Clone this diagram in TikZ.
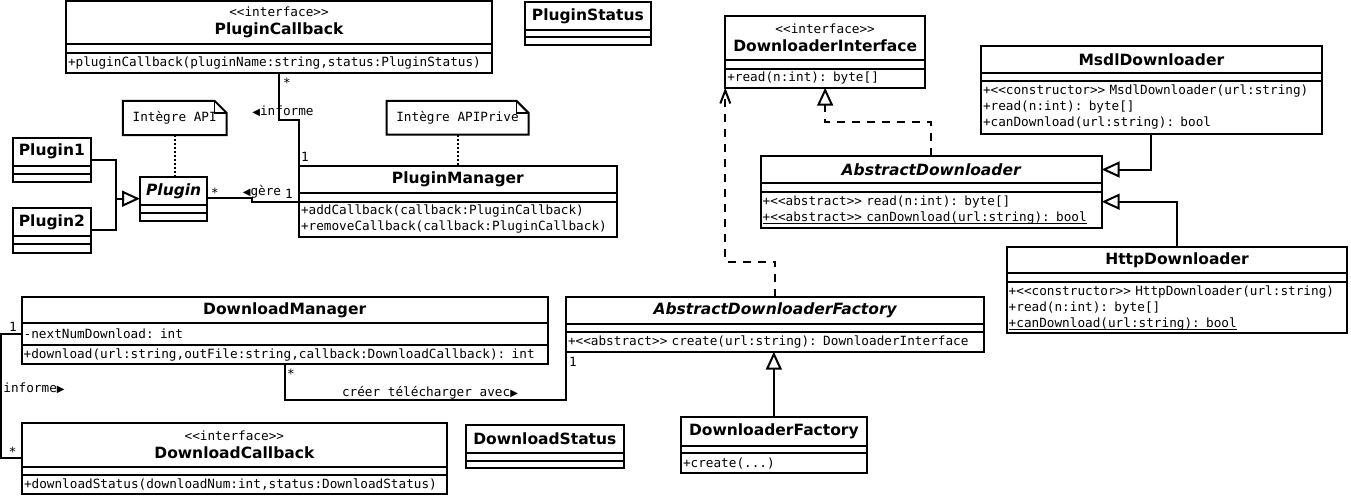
\documentclass[tikz,border=0pt]{standalone}
\usepackage{fontspec}
\setmainfont{DejaVu Sans}
\setmonofont{DejaVu Sans Mono}
\newfontfamily\tipfont{DejaVu Sans}
\usetikzlibrary{positioning,arrows.meta,calc}

\newcommand{\namefont}{\fontsize{15.5}{18.5}\selectfont\bfseries}
\newcommand{\memberfont}{\fontsize{12.7}{16}\selectfont\ttfamily}
\newcommand{\stereo}[1]{{\fontsize{12.7}{15}\selectfont\mdseries\ttfamily #1}}
\newcommand{\dirl}{{\tipfont\fontsize{10}{10}\selectfont ◀}}
\newcommand{\dirr}{{\tipfont\fontsize{10}{10}\selectfont ▶}}
\newcommand{\undl}[1]{\leavevmode\setbox0\hbox{#1}\rlap{\rule[-2.5pt]{\wd0}{1pt}}\box0}

\begin{document}
\begin{tikzpicture}[x=1pt,y=-1pt,
  head/.style={draw,line width=2pt,outer sep=0pt,inner xsep=2pt,inner ysep=0pt,
               anchor=north west,align=center,font=\namefont},
  part/.style={draw,line width=2pt,outer sep=0pt,inner xsep=2pt,inner ysep=0pt,
               align=left,font=\memberfont},
  notebox/.style={inner sep=0pt,font=\memberfont},
  mult/.style={inner sep=0pt,font=\memberfont},
  assoc/.style={line width=2pt},
  gen/.style={line width=2pt,-{Triangle[open,length=18pt,width=16pt]}},
  real/.style={gen,dash pattern=on 8pt off 7pt},
  dep/.style={line width=2pt,dash pattern=on 8pt off 7pt,
              -{Straight Barb[length=13pt,width=10pt]}},
  link/.style={line width=2pt,dotted},
]
\useasboundingbox (0,0) rectangle (1351,498);

% Plugin side
\node[head,text width=422pt,minimum height=43pt] (pcb-head) at (66,1)
  {\stereo{<<interface>>}\\PluginCallback};
\node[part,text width=422pt,minimum height=8.7pt,below=0pt of pcb-head] (pcb-attr) {};
\node[part,text width=422pt,minimum height=20pt,below=0pt of pcb-attr] (pcb-ops)
  {+pluginCallback(pluginName:string,status:PluginStatus)};

\node[head,text width=121.7pt,minimum height=28.3pt] (ps-head) at (525,1.7) {PluginStatus};
\node[part,text width=121.7pt,minimum height=7pt,below=0pt of ps-head] (ps-attr) {};
\node[part,text width=121.7pt,minimum height=8.3pt,below=0pt of ps-attr] (ps-ops) {};

\node[head,text width=73.7pt,minimum height=28pt] (p1-head) at (13,137.7) {Plugin1};
\node[part,text width=73.7pt,minimum height=8.3pt,below=0pt of p1-head] (p1-attr) {};
\node[part,text width=73.7pt,minimum height=8.3pt,below=0pt of p1-attr] (p1-ops) {};

\node[head,text width=73.7pt,minimum height=28pt] (p2-head) at (13,208) {Plugin2};
\node[part,text width=73.7pt,minimum height=8.3pt,below=0pt of p2-head] (p2-attr) {};
\node[part,text width=73.7pt,minimum height=8.3pt,below=0pt of p2-attr] (p2-ops) {};

\node[head,text width=63.3pt,minimum height=28.3pt] (plugin-head) at (140,176.7)
  {\itshape Plugin};
\node[part,text width=63.3pt,minimum height=7.7pt,below=0pt of plugin-head] (plugin-attr) {};
\node[part,text width=63.3pt,minimum height=8pt,below=0pt of plugin-attr] (plugin-ops) {};

\node[head,text width=313.7pt,minimum height=27.3pt] (pm-head) at (299,166) {PluginManager};
\node[part,text width=313.7pt,minimum height=8.4pt,below=0pt of pm-head] (pm-attr) {};
\node[part,text width=313.7pt,minimum height=35pt,below=0pt of pm-attr] (pm-ops)
  {+addCallback(callback:PluginCallback)\\+removeCallback(callback:PluginCallback)};

% Notes
\node[notebox,minimum width=103.3pt,minimum height=34pt] (napi) at (174.7,118) {Intègre API};
\draw[line width=2pt] (napi.south west) -- (napi.north west) -- ([xshift=-12pt]napi.north east)
  -- ([yshift=-12pt]napi.north east) -- (napi.south east) -- cycle;
\draw[line width=1.5pt] ([xshift=-12pt]napi.north east) |- ([yshift=-12pt]napi.north east);

\node[notebox,minimum width=141.6pt,minimum height=33.3pt] (napriv) at (457.5,117.7) {Intègre APIPrive};
\draw[line width=2pt] (napriv.south west) -- (napriv.north west) -- ([xshift=-12pt]napriv.north east)
  -- ([yshift=-12pt]napriv.north east) -- (napriv.south east) -- cycle;
\draw[line width=1.5pt] ([xshift=-12pt]napriv.north east) |- ([yshift=-12pt]napriv.north east);

% Downloader side
\node[head,text width=195.7pt,minimum height=44pt] (di-head) at (725.3,16)
  {\stereo{<<interface>>}\\DownloaderInterface};
\node[part,text width=195.7pt,minimum height=8.7pt,below=0pt of di-head] (di-attr) {};
\node[part,text width=195.7pt,minimum height=19pt,below=0pt of di-attr] (di-ops)
  {+read(n:int): byte[]};

\node[head,text width=336.7pt,minimum height=27pt] (msdl-head) at (981,46.3) {MsdlDownloader};
\node[part,text width=336.7pt,minimum height=8pt,below=0pt of msdl-head] (msdl-attr) {};
\node[part,text width=336.7pt,minimum height=52.4pt,below=0pt of msdl-attr] (msdl-ops)
  {+<<constructor>> MsdlDownloader(url:string)\\+read(n:int): byte[]\\+canDownload(url:string): bool};

\node[head,text width=337pt,minimum height=27.6pt] (ad-head) at (760.7,155.7)
  {\itshape AbstractDownloader};
\node[part,text width=337pt,minimum height=8.4pt,below=0pt of ad-head] (ad-attr) {};
\node[part,text width=337pt,minimum height=36pt,below=0pt of ad-attr] (ad-ops)
  {+<<abstract>> read(n:int): byte[]\\\undl{+<<abstract>> canDownload(url:string): bool}};

\node[head,text width=336.6pt,minimum height=26.8pt] (http-head) at (1006.7,246.5) {HttpDownloader};
\node[part,text width=336.6pt,minimum height=8.7pt,below=0pt of http-head] (http-attr) {};
\node[part,text width=336.6pt,minimum height=51.3pt,below=0pt of http-attr] (http-ops)
  {+<<constructor>> HttpDownloader(url:string)\\+read(n:int): byte[]\\\undl{+canDownload(url:string): bool}};

% Download side
\node[head,text width=522pt,minimum height=26pt] (dm-head) at (21.7,297.3) {DownloadManager};
\node[part,text width=522pt,minimum height=21.7pt,below=0pt of dm-head] (dm-attr)
  {-nextNumDownload: int};
\node[part,text width=522pt,minimum height=19pt,below=0pt of dm-attr] (dm-ops)
  {+download(url:string,outFile:string,callback:DownloadCallback): int};

\node[head,text width=414.3pt,minimum height=26.7pt] (adf-head) at (566,297.3)
  {\itshape AbstractDownloaderFactory};
\node[part,text width=414.3pt,minimum height=7.7pt,below=0pt of adf-head] (adf-attr) {};
\node[part,text width=414.3pt,minimum height=20pt,below=0pt of adf-attr] (adf-ops)
  {+<<abstract>> create(url:string): DownloaderInterface};

\node[head,text width=420.7pt,minimum height=43.4pt] (dc-head) at (22,423.3)
  {\stereo{<<interface>>}\\DownloadCallback};
\node[part,text width=420.7pt,minimum height=8.3pt,below=0pt of dc-head] (dc-attr) {};
\node[part,text width=420.7pt,minimum height=19.3pt,below=0pt of dc-attr] (dc-ops)
  {+downloadStatus(downloadNum:int,status:DownloadStatus)};

\node[head,text width=154.3pt,minimum height=28.3pt] (ds-head) at (465.7,425) {DownloadStatus};
\node[part,text width=154.3pt,minimum height=7.4pt,below=0pt of ds-head] (ds-attr) {};
\node[part,text width=154.3pt,minimum height=7pt,below=0pt of ds-attr] (ds-ops) {};

\node[head,text width=181.7pt,minimum height=28.4pt] (df-head) at (681,417.3) {DownloaderFactory};
\node[part,text width=181.7pt,minimum height=7.6pt,below=0pt of df-head] (df-attr) {};
\node[part,text width=181.7pt,minimum height=20pt,below=0pt of df-attr] (df-ops) {+create(...)};

% Connectors
\coordinate (pjoin) at (116,198.7);
\draw[assoc] ($(p1-head.north east)!0.5!(p1-ops.south east)$) -| (pjoin);
\draw[assoc] ($(p2-head.north east)!0.5!(p2-ops.south east)$) -| (pjoin);
\draw[gen] (pjoin) -- (pjoin -| plugin-head.west);

\draw[assoc] (pcb-ops.south) -- ++(0,47.3) -| (pm-head.north west);
\draw[assoc] ([yshift=7.3pt]plugin-head.south east) -- ++(45,0) |- (pm-ops.north west);
\draw[link] (napi.south) -- (napi.south |- plugin-head.north);
\draw[link] (napriv.south) -- (napriv.south |- pm-head.north);

\draw[dep] (adf-head.north) -- ++(0,-35.6) -| (di-ops.south west);
\draw[real] (ad-head.north) -- ++(0,-34) -| (di-ops.south);
\draw[gen] (msdl-ops.south) |- (ad-head.east);
\draw[gen] (http-head.north) |- ([yshift=-10pt]ad-ops.north east);
\draw[gen] (df-head.north) -- (df-head.north |- adf-ops.south);

\draw[assoc] ([xshift=263.3pt]dm-ops.south west) -- ++(0,36) -| (adf-ops.south west);
\draw[assoc] (dm-attr.west) -- ++(-20.7,0) |- ([yshift=9pt]dc-head.south west);

% Multiplicities and role labels
\node[mult] (m-pcb) at (287,82.3) {*};
\node[mult] (l-inf1) at (283,111.5) {\dirl informe};
\node[mult] (m-pm1) at (305,157) {1};
\node[mult] (m-plg) at (215,192.3) {*};
\node[mult] (l-gere) at (262,192) {\dirl gère};
\node[mult] (m-pm2) at (289,193.5) {1};
\node[mult] (m-dm1) at (13,326.7) {1};
\node[mult] (m-dc) at (12.7,451.3) {*};
\node[mult] (l-inf2) at (34,388.5) {informe\dirr};
\node[mult] (m-dm2) at (291,373.3) {*};
\node[mult] (l-creer) at (430,392.5) {créer télécharger avec\dirr};
\node[mult] (m-adf) at (573,361.7) {1};
\end{tikzpicture}
\end{document}
